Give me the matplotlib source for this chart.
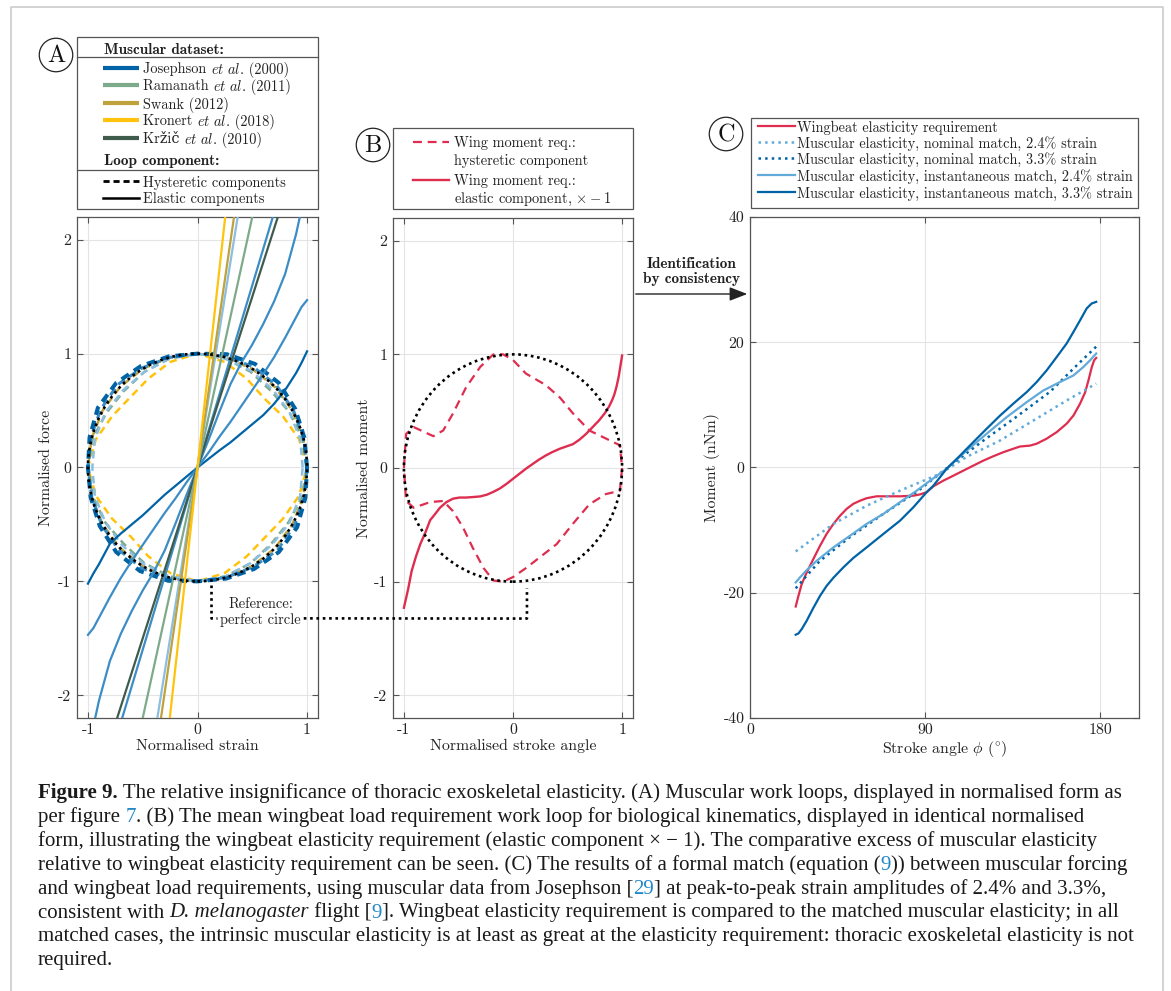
import matplotlib
matplotlib.use('Agg')
import matplotlib.pyplot as plt
import numpy as np
from matplotlib.font_manager import FontProperties
from matplotlib.patches import Ellipse, Rectangle, FancyArrowPatch
from matplotlib.lines import Line2D

W, H = 1171, 991
plt.rcParams['mathtext.fontset'] = 'cm'
plt.rcParams['font.family'] = ['cmr10', 'DejaVu Serif']
plt.rcParams['axes.unicode_minus'] = False
plt.rcParams['axes.formatter.use_mathtext'] = True

# ======================= DATA =======================
# ---- Panel A: normalised muscular work loops ----
A_xticks = [-1, 0, 1]
A_xticklabels = ['-1', '0', '1']
A_yticks = [-2, -1, 0, 1, 2]
A_yticklabels = ['-2', '-1', '0', '1', '2']

dataset_names = ['Josephson', 'Ramanath', 'Swank', 'Kronert', 'Kržič']
dataset_years = ['(2000)', '(2011)', '(2012)', '(2018)', '(2010)']
dataset_etal = [True, True, False, True, True]

# elastic components (straight ones)
elastic_straight_x = [-1.0, 0.0, 1.0]
kronert_elastic_y = [-8.7, 0.0, 8.7]
swank_elastic_y = [-6.6, 0.0, 6.6]
josephson_light_elastic_y = [-6.0, 0.0, 6.0]
ramanath_elastic_y = [-4.4, 0.0, 4.4]
krzic_elastic_y = [-3.0, 0.0, 3.0]
josephson_mid2_elastic_y = [-3.2, 0.0, 3.2]
# elastic components (curved Josephson loops)
curve_x = [-1.0, -0.95, -0.9, -0.8, -0.7, -0.6, -0.5, -0.4, -0.3, -0.2, -0.1, 0.0,
           0.1, 0.2, 0.3, 0.4, 0.5, 0.6, 0.7, 0.8, 0.9, 0.95, 1.0]
josephson_c1_y = [-2.5, -2.27, -2.05, -1.70, -1.46, -1.26, -1.08, -0.92, -0.73, -0.49, -0.24, 0.0,
                  0.24, 0.49, 0.73, 0.92, 1.08, 1.26, 1.46, 1.70, 2.05, 2.27, 2.5]
josephson_c2_y = [-1.47, -1.41, -1.32, -1.14, -0.97, -0.82, -0.68, -0.54, -0.40, -0.27, -0.13, 0.0,
                  0.13, 0.27, 0.40, 0.54, 0.68, 0.82, 0.97, 1.14, 1.32, 1.41, 1.47]
josephson_c3_y = [-1.02, -0.93, -0.85, -0.67, -0.58, -0.50, -0.42, -0.33, -0.24, -0.16, -0.08, 0.0,
                  0.075, 0.15, 0.22, 0.30, 0.38, 0.46, 0.56, 0.68, 0.83, 0.92, 1.02]

# hysteretic components: radius read at these angles (deg)
loop_angle_deg = [0, 15, 30, 45, 60, 75, 90, 105, 120, 135, 150, 165,
                  180, 195, 210, 225, 240, 255, 270, 285, 300, 315, 330, 345]
loop_r_jos_dark = [1.00, 1.01, 1.03, 1.05, 1.05, 1.03, 1.00, 1.01, 1.03, 1.05, 1.05, 1.02,
                   1.00, 1.01, 1.03, 1.05, 1.05, 1.03, 1.00, 1.01, 1.03, 1.05, 1.05, 1.02]
loop_r_jos_mid = [1.00, 1.00, 1.01, 1.02, 1.02, 1.01, 1.00, 1.00, 1.01, 1.03, 1.02, 1.01,
                  1.00, 1.00, 1.01, 1.02, 1.02, 1.01, 1.00, 1.00, 1.01, 1.03, 1.02, 1.01]
loop_r_jos_light = [0.96, 0.97, 0.97, 0.97, 0.98, 0.99, 1.00, 0.99, 0.97, 0.96, 0.97, 0.97,
                    0.96, 0.97, 0.97, 0.97, 0.98, 0.99, 1.00, 0.99, 0.97, 0.96, 0.97, 0.97]
loop_r_ramanath = [1.00, 0.99, 0.97, 0.95, 0.97, 0.99, 1.00, 0.99, 0.97, 0.95, 0.96, 0.99,
                   1.00, 0.99, 0.97, 0.95, 0.97, 0.99, 1.00, 0.99, 0.97, 0.95, 0.96, 0.99]
loop_r_kronert = [1.00, 0.96, 0.90, 0.86, 0.90, 0.96, 1.00, 0.96, 0.90, 0.87, 0.90, 0.96,
                  1.00, 0.96, 0.90, 0.86, 0.90, 0.96, 1.00, 0.96, 0.90, 0.87, 0.90, 0.96]
loop_r_swank = [1.0] * 24

# ---- Panel B: wing moment requirement (normalised) ----
B_hyst_x = [-1.0, -0.98, -0.91, -0.73, -0.64, -0.55, -0.43, -0.30, -0.18, -0.09, 0.0, 0.12,
            0.30, 0.43, 0.55, 0.70, 0.85, 0.98, 1.0, 0.98, 0.85, 0.70, 0.55, 0.40, 0.24,
            0.12, 0.0, -0.09, -0.18, -0.27, -0.37, -0.46, -0.55, -0.64, -0.76, -0.91, -0.98, -1.0]
B_hyst_y = [0.0, 0.30, 0.36, 0.28, 0.33, 0.48, 0.71, 0.89, 1.0, 1.0, 0.95, 0.83,
            0.73, 0.62, 0.48, 0.33, 0.26, 0.20, 0.0, -0.20, -0.23, -0.32, -0.49, -0.67, -0.79,
            -0.88, -0.96, -1.0, -0.99, -0.88, -0.70, -0.52, -0.38, -0.29, -0.30, -0.35, -0.29, 0.0]
B_elastic_x = [-1.0, -0.96, -0.93, -0.89, -0.85, -0.80, -0.76, -0.71, -0.67, -0.61, -0.55,
               -0.49, -0.43, -0.36, -0.30, -0.24, -0.18, -0.12, -0.06, 0.0, 0.06, 0.12,
               0.18, 0.24, 0.30, 0.36, 0.43, 0.49, 0.55, 0.61, 0.67, 0.73, 0.79, 0.84,
               0.88, 0.91, 0.93, 0.95, 0.97, 1.0]
B_elastic_y = [-1.23, -1.06, -0.91, -0.78, -0.67, -0.56, -0.46, -0.40, -0.35, -0.30, -0.27,
               -0.26, -0.26, -0.255, -0.25, -0.235, -0.21, -0.18, -0.14, -0.095, -0.05, -0.005,
               0.035, 0.075, 0.11, 0.14, 0.17, 0.19, 0.21, 0.25, 0.30, 0.36, 0.42, 0.48,
               0.54, 0.60, 0.65, 0.72, 0.81, 0.99]

# ---- Panel C: moments vs stroke angle ----
C_xticks = [0, 90, 180]
C_xticklabels = ['0', '90', '180']
C_yticks = [-40, -20, 0, 20, 40]
C_yticklabels = ['-40', '-20', '0', '20', '40']

req_phi = [23.5, 24.9, 26.6, 29.1, 32.6, 36.0, 39.4, 42.9, 46.3, 49.7, 53.1, 56.6, 60.0,
           65.1, 70.3, 77.1, 84.0, 87.4, 90.8, 94.3, 99.4, 104.6, 109.7, 114.8, 120.0,
           125.1, 130.3, 135.4, 138.8, 144.0, 147.4, 152.5, 157.7, 162.8, 166.3, 169.7,
           172.3, 174.0, 175.7, 176.9, 178.0]
req_M = [-22.2, -20.5, -18.6, -16.8, -14.6, -12.5, -10.6, -9.0, -7.7, -6.6, -5.8, -5.3, -4.9,
         -4.6, -4.6, -4.6, -4.5, -4.3, -3.95, -3.0, -2.1, -1.3, -0.5, 0.3, 1.1,
         1.8, 2.45, 3.0, 3.35, 3.5, 3.8, 4.6, 5.65, 7.0, 8.3, 10.2,
         12.0, 13.9, 16.0, 17.1, 17.5]
inst33_phi = [23.5, 24.9, 26.6, 29.1, 32.6, 36.0, 39.4, 42.9, 48.0, 53.1, 60.0, 68.6, 77.1,
              84.0, 90.8, 94.3, 101.1, 108.0, 114.8, 121.7, 128.6, 135.4, 142.3, 147.4,
              152.5, 157.7, 162.8, 166.3, 169.7, 173.1, 175.7, 178.0]
inst33_M = [-26.7, -26.5, -25.8, -24.5, -22.4, -20.5, -18.9, -17.6, -15.95, -14.45, -12.75,
            -10.6, -8.5, -6.35, -3.95, -2.9, -0.2, 1.9, 4.05, 6.2, 8.3, 10.2, 12.05, 13.65,
            15.5, 17.65, 19.8, 21.65, 23.5, 25.4, 26.2, 26.45]
inst24_phi = [23.5, 25.7, 29.1, 34.3, 42.9, 51.4, 60.0, 68.6, 77.1, 85.7, 92.6, 101.1, 111.4,
              121.7, 132.0, 142.3, 150.8, 159.4, 166.3, 171.4, 174.8, 178.0]
inst24_M = [-18.35, -17.55, -16.4, -14.9, -12.75, -10.9, -9.0, -7.4, -5.55, -3.7, -2.1, -0.2,
            2.7, 5.4, 8.05, 10.45, 12.3, 13.65, 14.7, 16.05, 17.1, 18.2]
nom33_phi = [23.5, 29.1, 36.0, 51.4, 68.6, 85.7, 102.8, 120.0, 137.0, 154.3, 166.3, 178.0]
nom33_M = [-19.3, -17.3, -14.9, -11.1, -7.4, -3.9, 0.3, 4.3, 8.1, 12.1, 15.8, 19.3]
nom24_phi = [23.5, 42.9, 60.0, 77.1, 97.7, 111.4, 128.5, 145.7, 162.8, 178.0]
nom24_M = [-13.4, -9.0, -6.1, -3.7, -1.0, 1.7, 4.3, 7.5, 10.7, 13.4]

C_labels = ['Wingbeat elasticity requirement',
            'Muscular elasticity, nominal match, 2.4% strain',
            'Muscular elasticity, nominal match, 3.3% strain',
            'Muscular elasticity, instantaneous match, 2.4% strain',
            'Muscular elasticity, instantaneous match, 3.3% strain']

# ======================= STYLE =======================
c_jos_dark = '#0063A6'
c_jos_mid = '#3C8DC5'
c_jos_light = '#8CBEE0'
c_ramanath = '#7DAA8A'
c_swank = '#BFA23C'
c_kronert = '#FFC30D'
c_krzic = '#3F5B4B'
c_red = '#DE2D4F'
c_lblue = '#62AADA'
dataset_colors = [c_jos_dark, c_ramanath, c_swank, c_kronert, c_krzic]

spine_c = '#555555'
grid_c = '#e4e4e4'
txt_c = '#222222'
lab_fs = 11.4
leg_fs = 10.4
bold_fs = 11.0

fig = plt.figure(figsize=(W / 100, H / 100), dpi=100)


def fax(l, t, r, b):
    return fig.add_axes([l / W, 1 - b / H, (r - l) / W, (b - t) / H])


def F(x, y):
    return (x / W, 1 - y / H)


def ftext(x, y, s, **kw):
    return fig.text(x / W, 1 - y / H, s, **kw)


def fline(xs, ys, **kw):
    fig.add_artist(Line2D([x / W for x in xs], [1 - y / H for y in ys],
                          transform=fig.transFigure, **kw))


def style(ax, xlim, ylim, xt, xtl, yt, ytl, xlabel, ylabel, ylx):
    ax.set_xlim(*xlim)
    ax.set_ylim(*ylim)
    ax.set_xticks(xt)
    ax.set_xticklabels(xtl)
    ax.set_yticks(yt)
    ax.set_yticklabels(ytl)
    ax.grid(True, color=grid_c, lw=0.8)
    ax.set_axisbelow(True)
    ax.tick_params(direction='in', top=True, right=True, length=4.5, width=0.8,
                   color=spine_c, labelsize=lab_fs, labelcolor=txt_c, pad=4)
    for s in ax.spines.values():
        s.set_color(spine_c)
        s.set_linewidth(0.9)
    ax.set_xlabel(xlabel, fontsize=lab_fs, color=txt_c)
    ax.set_ylabel(ylabel, fontsize=lab_fs, color=txt_c)
    ax.xaxis.set_label_coords(0.5, -0.042)
    ax.yaxis.set_label_coords(ylx, 0.5)


axA = fax(77, 217, 318, 718)
axB = fax(393, 218, 633, 718)
axC = fax(750, 217, 1139, 718)

style(axA, (-1.1, 1.1), (-2.2, 2.2), A_xticks, A_xticklabels, A_yticks, A_yticklabels,
      'Normalised strain', 'Normalised force', -0.1)
style(axB, (-1.1, 1.1), (-2.2, 2.2), A_xticks, A_xticklabels, A_yticks, A_yticklabels,
      'Normalised stroke angle', 'Normalised moment', -0.092)
style(axC, (0, 200), (-40, 40), C_xticks, C_xticklabels, C_yticks, C_yticklabels,
      r'Stroke angle $\phi$ ($^{\circ}$)', 'Moment (nNm)', -0.078)

# ---- Panel A drawing ----
th = np.deg2rad(loop_angle_deg + [loop_angle_deg[0]])


def loop_xy(rlist):
    r = np.array(rlist + [rlist[0]])
    return r * np.cos(th), r * np.sin(th)


loops = [(loop_r_swank, c_swank, 1.8, (3.0, 2.0)),
         (loop_r_kronert, c_kronert, 1.8, (3.0, 2.0)),
         (loop_r_ramanath, c_ramanath, 1.8, (3.0, 2.0)),
         (loop_r_jos_light, c_jos_light, 1.8, (3.0, 2.0)),
         (loop_r_jos_mid, c_jos_mid, 2.2, (2.6, 1.8)),
         (loop_r_jos_dark, c_jos_dark, 2.9, (2.2, 1.5))]
for rl, c, lw, d in loops:
    x, y = loop_xy(rl)
    axA.plot(x, y, color=c, lw=lw, dashes=d, zorder=2)

elastic = [(curve_x, josephson_c3_y, c_jos_dark),
           (curve_x, josephson_c2_y, c_jos_mid),
           (curve_x, josephson_c1_y, c_jos_mid),
           (elastic_straight_x, josephson_mid2_elastic_y, c_jos_mid),
           (elastic_straight_x, krzic_elastic_y, c_krzic),
           (elastic_straight_x, ramanath_elastic_y, c_ramanath),
           (elastic_straight_x, josephson_light_elastic_y, c_jos_light),
           (elastic_straight_x, swank_elastic_y, c_swank),
           (elastic_straight_x, kronert_elastic_y, c_kronert)]
for x, y, c in elastic:
    axA.plot(x, y, color=c, lw=1.6, zorder=3)

for ax in (axA, axB):
    ax.add_patch(Ellipse((0, 0), 2, 2, fill=False, ec='black', lw=1.9,
                         ls=(0, (1, 1.4)), zorder=5))

# ---- Panel B drawing ----
axB.plot(B_hyst_x, B_hyst_y, color=c_red, lw=1.6, dashes=(4, 2.6), zorder=3)
axB.plot(B_elastic_x, B_elastic_y, color=c_red, lw=1.7, zorder=4)

# ---- Panel C drawing ----
C_series = [(req_phi, req_M, c_red, '-', 1.6),
            (nom24_phi, nom24_M, c_lblue, ':', 1.8),
            (nom33_phi, nom33_M, c_jos_dark, ':', 1.8),
            (inst24_phi, inst24_M, c_lblue, '-', 1.6),
            (inst33_phi, inst33_M, c_jos_dark, '-', 1.6)]
for x, y, c, ls, lw in C_series:
    axC.plot(x, y, color=c, ls=ls, lw=lw)

# ======================= LEGENDS =======================
bold_fp = FontProperties(family='cmb10', size=bold_fs)
reg_fp = FontProperties(family=['cmr10', 'DejaVu Serif'], size=leg_fs)


def box(l, t, r, b):
    fig.add_artist(Rectangle(F(l, b), (r - l) / W, (b - t) / H, transform=fig.transFigure,
                             fill=False, ec=spine_c, lw=0.9))


renderer = fig.canvas.get_renderer()


def twidth(s, fp, ismath=False):
    if ismath:
        return renderer.get_text_width_height_descent(s, fp, ismath=True)[0]
    w1 = renderer.get_text_width_height_descent('x' + s + 'x', fp, ismath=False)[0]
    w0 = renderer.get_text_width_height_descent('xx', fp, ismath=False)[0]
    return w1 - w0


def runs(x, y, parts, fp, color=txt_c):
    for s, ismath in parts:
        ftext(x, y, s, fontproperties=fp, va='center_baseline', color=color)
        x += twidth(s, fp, ismath)


# Panel A legend
box(77, 37, 318, 209)
fline([77, 318], [57, 57], color=spine_c, lw=0.9)
fline([77, 318], [170, 170], color=spine_c, lw=0.9)
ftext(104, 48, 'Muscular dataset:', fontproperties=bold_fp, va='center_baseline', color=txt_c)
rows = [68, 85, 103, 120, 138]
for name, yr, etal, c, yy in zip(dataset_names, dataset_years, dataset_etal, dataset_colors, rows):
    fline([103, 139], [yy, yy], color=c, lw=3.0, solid_capstyle='butt')
    if etal:
        parts = [(name + ' ', False), (r'$et\ al.$', True), (' ' + yr, False)]
    else:
        parts = [(name + ' ' + yr, False)]
    runs(143, yy, parts, reg_fp)
ftext(104, 160, 'Loop component:', fontproperties=bold_fp, va='center_baseline', color=txt_c)
fline([103, 139], [181, 181], color='black', lw=2.0, dashes=(2.2, 1.4))
ftext(143, 181, 'Hysteretic components', fontproperties=reg_fp, va='center_baseline', color=txt_c)
fline([103, 139], [198, 198], color='black', lw=1.8)
ftext(143, 198, 'Elastic components', fontproperties=reg_fp, va='center_baseline', color=txt_c)

# Panel B legend
box(393, 128, 633, 209)
fline([413, 449], [142, 142], color=c_red, lw=1.6, dashes=(4, 2.6))
ftext(454, 142, 'Wing moment req.:', fontsize=leg_fs, va='center_baseline', color=txt_c)
ftext(454, 159, 'hysteretic component', fontsize=leg_fs, va='center_baseline', color=txt_c)
fline([413, 449], [180, 180], color=c_red, lw=1.7)
ftext(454, 180, 'Wing moment req.:', fontsize=leg_fs, va='center_baseline', color=txt_c)
ftext(454, 197, r'elastic component, $\times-1$', fontsize=leg_fs, va='center_baseline',
      color=txt_c)

# Panel C legend
box(751, 118, 1138, 208)
rowsC = [126, 142, 158, 175, 192]
for (x, y, c, ls, lw), lab, yy in zip(C_series, C_labels, rowsC):
    fline([758, 795], [yy, yy], color=c, ls=ls, lw=lw)
    ftext(797, yy, lab, fontsize=leg_fs - 0.1, va='center_baseline', color=txt_c)

# Circled panel letters
for lab, cx, cy in [('A', 56, 55), ('B', 373, 145), ('C', 726, 134)]:
    fig.add_artist(Ellipse(F(cx, cy), 33.5 / W, 33.5 / H, transform=fig.transFigure,
                           fill=False, ec='#222222', lw=0.9))
    ftext(cx, cy + 1, lab, fontsize=17.5, ha='center', va='center', color='#111111')

# ======================= ANNOTATIONS =======================
ftext(692, 262, 'Identification', fontproperties=bold_fp, ha='center', va='center_baseline',
      color=txt_c)
ftext(692, 277, 'by consistency', fontproperties=bold_fp, ha='center', va='center_baseline',
      color=txt_c)
fig.add_artist(FancyArrowPatch(F(633, 294), F(750, 294), transform=fig.transFigure,
                               arrowstyle='-|>,head_length=0.9,head_width=0.35',
                               mutation_scale=12, lw=1.0, color='#222222'))


def d2f(ax, x, y):
    return fig.transFigure.inverted().transform(ax.transData.transform((x, y)))


p1 = d2f(axA, 0.12, -1.03)
p2 = d2f(axA, 0.12, -1.325)
p3 = d2f(axA, 0.18, -1.325)
q1 = d2f(axA, 0.97, -1.325)
q2 = d2f(axB, 0.128, -1.325)
q3 = d2f(axB, 0.128, -1.056)
for pts in ([p1, p2, p3], [q1, q2, q3]):
    fig.add_artist(Line2D([p[0] for p in pts], [p[1] for p in pts], transform=fig.transFigure,
                          color='black', lw=1.9, ls=(0, (1, 1.4))))
axA.text(0.575, -1.19, 'Reference:', fontsize=leg_fs, ha='center', va='center_baseline',
         color=txt_c, clip_on=False)
axA.text(0.575, -1.325, 'perfect circle', fontsize=leg_fs, ha='center',
         va='center_baseline', color=txt_c, clip_on=False)

# ======================= BORDER & CAPTION =======================
fline([11, 11, 1163, 1163], [995, 7, 7, 995], color='#cccccc', lw=1.2)

cap_lines = [
    [('Figure 9.', 'b'), (' The relative insignificance of thoracic exoskeletal elasticity. (A) Muscular work loops, displayed in normalised form as', 'r')],
    [('per figure ', 'r'), ('7', 'l'), ('. (B) The mean wingbeat load requirement work loop for biological kinematics, displayed in identical normalised', 'r')],
    [('form, illustrating the wingbeat elasticity requirement (elastic component × − 1). The comparative excess of muscular elasticity', 'r')],
    [('relative to wingbeat elasticity requirement can be seen. (C) The results of a formal match (equation (', 'r'), ('9', 'l'), (')) between muscular forcing', 'r')],
    [('and wingbeat load requirements, using muscular data from Josephson [', 'r'), ('29', 'l'), ('] at peak-to-peak strain amplitudes of 2.4% and 3.3%,', 'r')],
    [('consistent with ', 'r'), ('D. melanogaster', 'i'), (' flight [', 'r'), ('9', 'l'), (']. Wingbeat elasticity requirement is compared to the matched muscular elasticity; in all', 'r')],
    [('matched cases, the intrinsic muscular elasticity is at least as great at the elasticity requirement: thoracic exoskeletal elasticity is not', 'r')],
    [('required.', 'r')],
]
cap_fs = 15.0
cap_fam = 'Liberation Serif'
fps = {'r': FontProperties(family=cap_fam, size=cap_fs),
       'l': FontProperties(family=cap_fam, size=cap_fs),
       'b': FontProperties(family=cap_fam, size=cap_fs, weight='bold'),
       'i': FontProperties(family=cap_fam, size=cap_fs, style='italic')}
cols = {'r': '#1a1a1a', 'l': '#2288C8', 'b': '#1a1a1a', 'i': '#1a1a1a'}
y0 = 798
for i, line in enumerate(cap_lines):
    x = 38
    yy = y0 + i * 23.9
    for s, k in line:
        ftext(x, yy, s, fontproperties=fps[k], color=cols[k], va='baseline', ha='left')
        x += twidth(s, fps[k])

fig.savefig('out.png', dpi=100, facecolor='white')
